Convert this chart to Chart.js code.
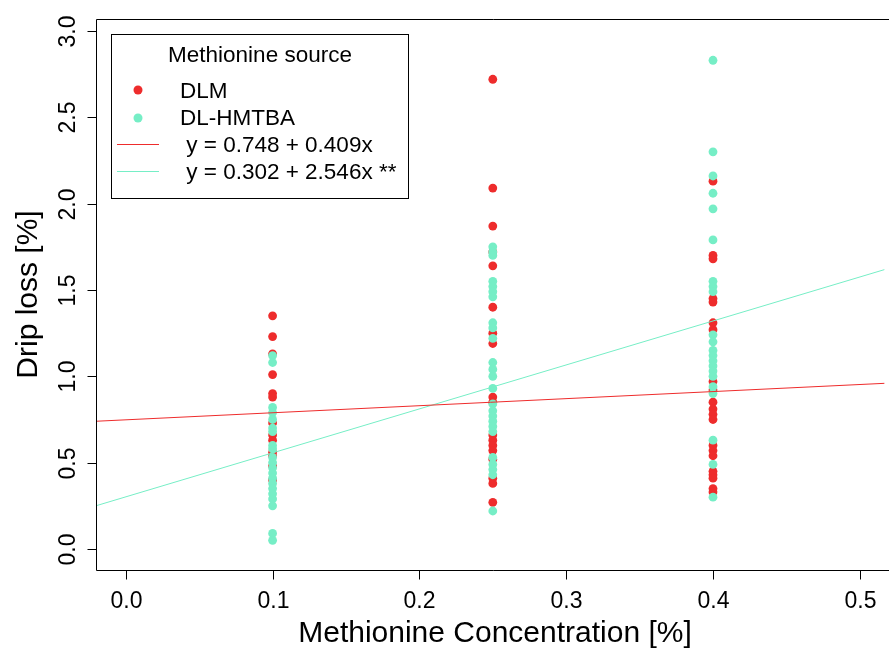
<!DOCTYPE html>
<html>
<head>
<meta charset="utf-8">
<script src="https://cdn.jsdelivr.net/npm/chart.js@4"></script>
<style>
html,body{margin:0;padding:0;background:#fff;overflow:hidden;width:889px;height:651px;}
canvas{display:block;}
</style>
</head>
<body>
<canvas id="c" width="889" height="651"></canvas>
<script>
// ---- data ----
const concentrations = [0.1, 0.25, 0.4];
const dlm_0_10   = [1.35, 1.23, 1.13, 1.01, 0.90, 0.88, 0.73, 0.66, 0.63, 0.56, 0.54, 0.48, 0.40];
const hmtba_0_10 = [1.12, 1.08, 0.82, 0.79, 0.75, 0.70, 0.68, 0.60, 0.58, 0.53, 0.50, 0.47, 0.44, 0.41, 0.38, 0.35, 0.32, 0.29, 0.25, 0.09, 0.05];
const dlm_0_25   = [2.72, 2.09, 1.87, 1.72, 1.64, 1.40, 1.25, 1.19, 0.88, 0.85, 0.66, 0.63, 0.60, 0.57, 0.52, 0.41, 0.38, 0.27];
const hmtba_0_25 = [1.75, 1.72, 1.70, 1.55, 1.52, 1.49, 1.46, 1.31, 1.28, 1.22, 1.08, 1.04, 1.00, 0.93, 0.84, 0.80, 0.77, 0.74, 0.71, 0.68, 0.53, 0.49, 0.46, 0.43, 0.22];
const dlm_0_40   = [2.13, 1.70, 1.68, 1.45, 1.43, 1.31, 1.27, 0.97, 0.92, 0.85, 0.81, 0.78, 0.75, 0.60, 0.57, 0.54, 0.45, 0.43, 0.41, 0.35, 0.33];
const hmtba_0_40 = [2.83, 2.30, 2.16, 2.06, 1.97, 1.79, 1.55, 1.52, 1.49, 1.24, 1.20, 1.15, 1.12, 1.09, 1.06, 1.03, 1.00, 0.94, 0.90, 0.63, 0.49, 0.30];
const seriesNames = ['DLM', 'DL-HMTBA'];
const intercepts = [0.748, 0.302];
const slopes = [0.409, 2.546];
const eqLabels = [' y = 0.748 + 0.409x', ' y = 0.302 + 2.546x **'];
const legendTitle = 'Methionine source';
const xTicks = [0.0, 0.1, 0.2, 0.3, 0.4, 0.5];
const xTickLabels = ['0.0', '0.1', '0.2', '0.3', '0.4', '0.5'];
const yTicks = [0.0, 0.5, 1.0, 1.5, 2.0, 2.5, 3.0];
const yTickLabels = ['0.0', '0.5', '1.0', '1.5', '2.0', '2.5', '3.0'];
const xTitle = 'Methionine Concentration [%]';
const yTitle = 'Drip loss [%]';

// ---- styles ----
const RED = '#EE2C2C';
const CYAN = '#76EEC6';
const FONT = '"Liberation Sans", Arial, sans-serif';
const X_MIN = -0.0203, X_MAX = 0.5169, Y_MIN = -0.1216, Y_MAX = 3.069;

function pts(groups) {
  const out = [];
  groups.forEach((vals, i) => vals.forEach(v => out.push({x: concentrations[i], y: v})));
  return out;
}
const dlmPoints = pts([dlm_0_10, dlm_0_25, dlm_0_40]);
const hmtbaPoints = pts([hmtba_0_10, hmtba_0_25, hmtba_0_40]);
function regLine(k) {
  return [X_MIN, X_MAX].map(x => ({x: x, y: intercepts[k] + slopes[k] * x}));
}

const overlay = {
  id: 'overlay',
  afterDraw(chart) {
    const ctx = chart.ctx;
    const a = chart.chartArea;
    const xs = chart.scales.x, ys = chart.scales.y;
    ctx.save();
    ctx.strokeStyle = '#000';
    ctx.lineWidth = 1;
    // box (right side lies outside the picture)
    ctx.beginPath();
    ctx.rect(Math.round(a.left) + 0.5, Math.round(a.top) + 0.5, 2000, Math.round(a.bottom) - Math.round(a.top));
    ctx.stroke();
    // ticks
    ctx.fillStyle = '#000';
    ctx.font = '23px ' + FONT;
    ctx.textAlign = 'center';
    ctx.textBaseline = 'alphabetic';
    xTicks.forEach((v, i) => {
      const px = Math.round(xs.getPixelForValue(v)) + 0.5;
      ctx.beginPath();
      ctx.moveTo(px, Math.round(a.bottom) + 0.5);
      ctx.lineTo(px, Math.round(a.bottom) + 9.5);
      ctx.stroke();
      ctx.fillText(xTickLabels[i], px, 608);
    });
    yTicks.forEach((v, i) => {
      const py = Math.round(ys.getPixelForValue(v)) + 0.5;
      ctx.beginPath();
      ctx.moveTo(Math.round(a.left) + 0.5, py);
      ctx.lineTo(Math.round(a.left) - 8.5, py);
      ctx.stroke();
      ctx.save();
      ctx.translate(75, py);
      ctx.rotate(-Math.PI / 2);
      ctx.fillText(yTickLabels[i], 0, 0);
      ctx.restore();
    });
    // axis titles
    ctx.font = '30px ' + FONT;
    ctx.fillText(xTitle, 495, 642);
    ctx.save();
    ctx.translate(37, (a.top + a.bottom) / 2);
    ctx.rotate(-Math.PI / 2);
    ctx.fillText(yTitle, 0, 0);
    ctx.restore();
    // legend
    ctx.fillStyle = '#fff';
    ctx.fillRect(112, 35, 296, 163);
    ctx.strokeStyle = '#000';
    ctx.strokeRect(111.5, 34.5, 297, 164);
    ctx.fillStyle = '#000';
    ctx.font = '22.5px ' + FONT;
    ctx.textAlign = 'center';
    ctx.fillText(legendTitle, 260, 62);
    ctx.textAlign = 'left';
    const cols = [RED, CYAN];
    const dotY = [90, 118];
    const txtY = [98, 125];
    seriesNames.forEach((n, i) => {
      ctx.fillStyle = cols[i];
      ctx.beginPath();
      ctx.arc(138, dotY[i], 4.5, 0, Math.PI * 2);
      ctx.fill();
      ctx.fillStyle = '#000';
      ctx.fillText(n, 180, txtY[i]);
    });
    const lineY = [144.5, 171.5];
    const eqY = [152, 179];
    eqLabels.forEach((t, i) => {
      ctx.strokeStyle = cols[i];
      ctx.beginPath();
      ctx.moveTo(117, lineY[i]);
      ctx.lineTo(159, lineY[i]);
      ctx.stroke();
      ctx.fillStyle = '#000';
      ctx.fillText(t, 180, eqY[i]);
    });
    ctx.restore();
  }
};

new Chart(document.getElementById('c'), {
  type: 'scatter',
  data: {
    datasets: [
      {label: eqLabels[0], type: 'line', data: regLine(0), borderColor: RED, borderWidth: 1, pointRadius: 0, fill: false, order: 0},
      {label: eqLabels[1], type: 'line', data: regLine(1), borderColor: CYAN, borderWidth: 1, pointRadius: 0, fill: false, order: 0},
      {label: seriesNames[1], data: hmtbaPoints, backgroundColor: CYAN, borderWidth: 0, pointRadius: 4.4, order: 1},
      {label: seriesNames[0], data: dlmPoints, backgroundColor: RED, borderWidth: 0, pointRadius: 4.4, order: 2}
    ]
  },
  options: {
    responsive: false,
    animation: false,
    devicePixelRatio: 1,
    layout: {padding: {left: 0, right: 0, top: 19, bottom: 0}},
    plugins: {legend: {display: false}, tooltip: {enabled: false}},
    scales: {
      x: {
        type: 'linear', min: X_MIN, max: X_MAX,
        grid: {display: false}, border: {display: false},
        ticks: {display: false},
        afterBuildTicks: s => { s.ticks = xTicks.map(v => ({value: v})); },
        afterFit: s => { s.height = 81; }
      },
      y: {
        type: 'linear', min: Y_MIN, max: Y_MAX,
        grid: {display: false}, border: {display: false},
        ticks: {display: false},
        afterBuildTicks: s => { s.ticks = yTicks.map(v => ({value: v})); },
        afterFit: s => { s.width = 96; }
      }
    }
  },
  plugins: [overlay]
});
</script>
</body>
</html>
